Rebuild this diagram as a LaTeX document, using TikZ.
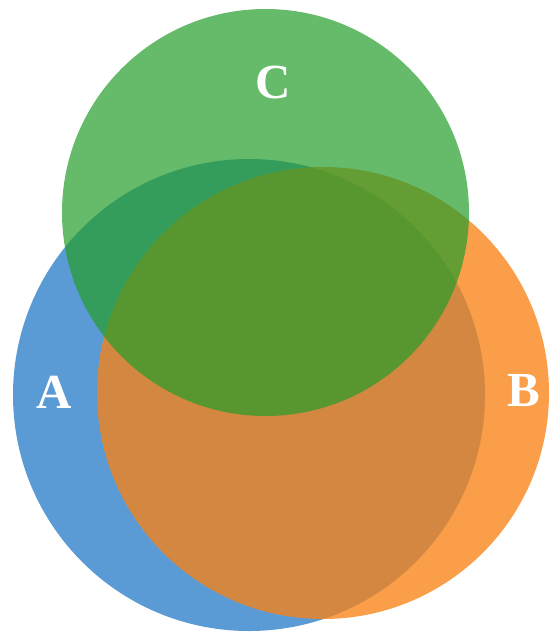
\documentclass[tikz,border=0pt]{standalone}
\usepackage{fontspec}
\setmainfont{Liberation Serif}
\usepackage{tikz}

\definecolor{setblue}{RGB}{91,155,213}
\definecolor{setorange}{RGB}{248,129,20}
\definecolor{setgreen}{RGB}{36,158,42}

\tikzset{
  setlabel/.style={text=white, font=\fontsize{49}{49}\selectfont\bfseries, inner sep=0pt}
}

\begin{document}
\begin{tikzpicture}[x=1pt,y=-1pt]
\useasboundingbox (0,0) rectangle (550,632);

\fill[setblue] (249,395) circle[radius=236];
\fill[setorange, fill opacity=0.77] (323,393) circle[radius=226];
\fill[setgreen, fill opacity=0.7] (265.5,212.5) circle[radius=203.5];

\node[setlabel] (labelA) at (54,392) {A};
\node[setlabel] (labelB) at (524,391) {B};
\node[setlabel] (labelC) at (273,83) {C};
\end{tikzpicture}
\end{document}
